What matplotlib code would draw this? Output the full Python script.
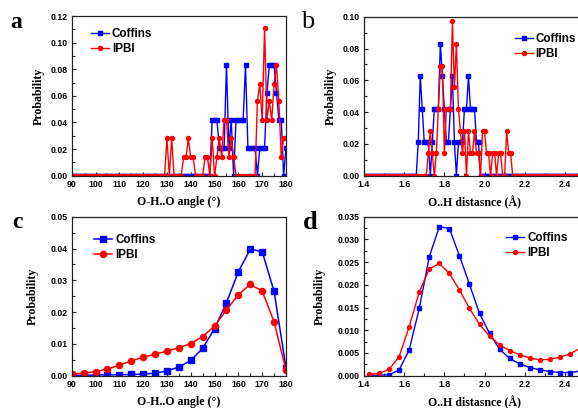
import numpy as np
import matplotlib
matplotlib.use("Agg")
import matplotlib.pyplot as plt
from matplotlib.ticker import MultipleLocator, FormatStrFormatter

# -------------------------------------------------------------
# 1) data
# -------------------------------------------------------------
# (a) O-H..O angle histogram, 1 degree bins, 90..180
angle_a = np.arange(90, 181, 1)
coffins_a = [0.0] * 59 + [
    0.042, 0.042, 0.042, 0.021, 0.021, 0.021, 0.083, 0.021, 0.042, 0.0,      # 149-158
    0.042, 0.042, 0.042, 0.042, 0.083, 0.021, 0.021, 0.021, 0.021, 0.0,      # 159-168
    0.021, 0.021, 0.021, 0.0625, 0.083, 0.083, 0.083, 0.0625, 0.042, 0.042,  # 169-178
    0.0, 0.021,                                                              # 179-180
]
ipbi_a = [0.0] * 40 + [
    0.028, 0.0, 0.028, 0.0, 0.0, 0.0, 0.0, 0.014, 0.014, 0.028,              # 130-139
    0.014, 0.014, 0.0, 0.0, 0.0, 0.0, 0.014, 0.014, 0.0, 0.028,              # 140-149
    0.0, 0.014, 0.028, 0.014, 0.042, 0.042, 0.014, 0.028, 0.014, 0.0,        # 150-159
    0.0, 0.0, 0.0, 0.0, 0.0, 0.0, 0.0, 0.0, 0.056, 0.069,                    # 160-169
    0.042, 0.111, 0.042, 0.056, 0.042, 0.069, 0.083, 0.056, 0.014, 0.028,    # 170-179
    0.028,                                                                   # 180
]

# (b) O..H distance histogram, 0.01 A bins, 1.40..2.50
dist_b = np.round(np.arange(1.40, 2.505, 0.01), 2)
coffins_b = [0.0] * 27 + [
    0.021, 0.0625, 0.042, 0.021, 0.021, 0.021, 0.0, 0.021, 0.042, 0.042,     # 1.67-1.76
    0.042, 0.083, 0.0625, 0.042, 0.021, 0.021, 0.042, 0.0625, 0.021, 0.0,    # 1.77-1.86
    0.021, 0.021, 0.021, 0.042, 0.042, 0.0625, 0.042, 0.042, 0.042, 0.021,   # 1.87-1.96
    0.021, 0.0,                                                              # 1.97-1.98
] + [0.0] * 52
ipbi_b = [0.0] * 32 + [
    0.014, 0.028, 0.014, 0.0, 0.014, 0.042, 0.069, 0.069, 0.014, 0.042,      # 1.72-1.81
    0.042, 0.042, 0.097, 0.056, 0.083, 0.042, 0.028, 0.014, 0.028, 0.0,      # 1.82-1.91
    0.028, 0.014, 0.014, 0.028, 0.014, 0.014, 0.0, 0.028, 0.028, 0.014,      # 1.92-2.01
    0.014, 0.0, 0.014, 0.014, 0.0, 0.014, 0.014, 0.0, 0.0, 0.028,            # 2.02-2.11
    0.014, 0.014, 0.0,                                                       # 2.12-2.14
] + [0.0] * 36

# (c) O-H..O angle distribution, 5 degree steps
angle_c = np.arange(90, 181, 5)
coffins_c = [0.0001, 0.0001, 0.0002, 0.0003, 0.0003, 0.0004, 0.0005, 0.0008,
             0.0015, 0.0027, 0.0048, 0.0086, 0.0148, 0.0230, 0.0327, 0.0398,
             0.0390, 0.0265, 0.0025]
ipbi_c = [0.0005, 0.0008, 0.0013, 0.0021, 0.0033, 0.0047, 0.0058, 0.0068,
          0.0077, 0.0088, 0.0101, 0.0123, 0.0156, 0.0207, 0.0255, 0.0287,
          0.0266, 0.0169, 0.0017]

# (d) O..H distance distribution, bin centres 1.425..2.475
dist_d = np.round(np.arange(1.425, 2.48, 0.05), 3)
coffins_d = [0.0000, 0.0001, 0.0002, 0.0013, 0.0057, 0.0148, 0.0262, 0.0328,
             0.0324, 0.0264, 0.0201, 0.0137, 0.0093, 0.0058, 0.0038, 0.0026,
             0.0018, 0.0013, 0.0009, 0.0007, 0.0007, 0.0010]
ipbi_d = [0.0003, 0.0005, 0.0014, 0.0042, 0.0108, 0.0184, 0.0235, 0.0247,
          0.0225, 0.0189, 0.0148, 0.0113, 0.0087, 0.0068, 0.0055, 0.0046,
          0.0039, 0.0035, 0.0036, 0.0041, 0.0048, 0.0060]

labels = ["Coffins", "IPBI"]
angle_label = "O-H..O angle (°)"
dist_label = "O..H distasnce (Å)"

# -------------------------------------------------------------
# 2) figure and axes (b/d run past the right edge, like the source)
# -------------------------------------------------------------
W, H = 578, 408
fig = plt.figure(figsize=(W / 100, H / 100), dpi=100)


def px_axes(left, top, right, bottom):
    return fig.add_axes([left / W, 1 - bottom / H, (right - left) / W, (bottom - top) / H])


ax_a = px_axes(71.7, 16.0, 286.0, 175.7)
ax_b = px_axes(364.0, 16.7, 585.0, 175.7)
ax_c = px_axes(71.7, 216.7, 286.0, 375.7)
ax_d = px_axes(364.0, 216.7, 585.0, 375.7)

BLUE = "#0000ff"
RED = "#ff0000"
SERIF = "Liberation Serif"
SANS = "Liberation Sans"


def draw(ax, x, yb, yr, ms_sq, ms_ci, lw):
    ax.plot(x, yb, color=BLUE, lw=lw, marker="s", ms=ms_sq, mec=BLUE, mfc=BLUE,
            label=labels[0])
    ax.plot(x, yr, color=RED, lw=lw, marker="o", ms=ms_ci, mec=RED, mfc=RED,
            label=labels[1])


draw(ax_a, angle_a, coffins_a, ipbi_a, 2.6, 2.9, 1.0)
draw(ax_b, dist_b, coffins_b, ipbi_b, 2.6, 2.9, 1.0)
draw(ax_c, angle_c, coffins_c, ipbi_c, 4.0, 4.4, 1.1)
draw(ax_d, dist_d, coffins_d, ipbi_d, 2.6, 2.8, 1.0)

# -------------------------------------------------------------
# 3) axis limits / ticks
# -------------------------------------------------------------
setup = [
    (ax_a, (90, 180), 10, 5, (0, 0.12), 0.02, 0.01, "%.2f", angle_label, (-0.125, -0.125)),
    (ax_b, (1.4, 2.5), 0.2, 0.1, (0, 0.10), 0.02, 0.01, "%.2f", dist_label, (-0.124, -0.125)),
    (ax_c, (90, 180), 10, 5, (0, 0.05), 0.01, 0.005, "%.2f", angle_label, (-0.155, -0.125)),
    (ax_d, (1.4, 2.5), 0.2, 0.1, (0, 0.035), 0.005, 0.0025, "%.3f", dist_label, (-0.174, -0.127)),
]
for ax, xl, xmaj, xmin, yl, ymaj, ymin, yfmt, xlab, (ylx, xly) in setup:
    ax.set_xlim(*xl)
    ax.set_ylim(*yl)
    ax.xaxis.set_major_locator(MultipleLocator(xmaj))
    ax.xaxis.set_minor_locator(MultipleLocator(xmin))
    ax.yaxis.set_major_locator(MultipleLocator(ymaj))
    ax.yaxis.set_minor_locator(MultipleLocator(ymin))
    ax.yaxis.set_major_formatter(FormatStrFormatter(yfmt))
    if xmaj == 0.2:
        ax.xaxis.set_major_formatter(FormatStrFormatter("%.1f"))
    ax.tick_params(which="both", direction="in", top=False, right=False,
                   width=0.8, colors="#222222")
    ax.tick_params(which="major", length=3, pad=3)
    ax.tick_params(which="minor", length=2)
    for lab in ax.get_xticklabels() + ax.get_yticklabels():
        lab.set_fontfamily(SANS)
        lab.set_fontweight("bold")
        lab.set_fontsize(6.3)
        lab.set_color("black")
    for sp in ax.spines.values():
        sp.set_linewidth(0.9)
        sp.set_color("#222222")
    ax.set_ylabel("Probability", family=SERIF, weight="bold", fontsize=8.6)
    ax.set_xlabel(xlab, family=SERIF, weight="bold", fontsize=8.6)
    ax.yaxis.set_label_coords(ylx, 0.5)
    ax.xaxis.set_label_coords(0.5, xly)

# -------------------------------------------------------------
# 4) legends
# -------------------------------------------------------------
leg_pos = {ax_a: (0.089, 0.925), ax_b: (0.682, 0.895), ax_c: (0.105, 0.89), ax_d: (0.644, 0.905)}
for ax, (lx, ly) in leg_pos.items():
    ax.legend(loc="upper left", bbox_to_anchor=(lx, ly), frameon=False,
              borderaxespad=0, borderpad=0, handlelength=1.55, handletextpad=0.25,
              labelspacing=0.25, prop={"family": SANS, "weight": "bold", "size": 8.4})

# -------------------------------------------------------------
# 5) panel letters
# -------------------------------------------------------------
for txt, x, y, size, wt in [("a", 16, 28, 17, "bold"), ("b", 308, 28, 19, "normal"),
                            ("c", 17, 228, 17, "bold"), ("d", 310, 229, 19, "bold")]:
    fig.text(x / W, 1 - y / H, txt, family=SERIF, weight=wt, fontsize=size,
             ha="center", va="baseline")

fig.savefig("out.png", dpi=100)
